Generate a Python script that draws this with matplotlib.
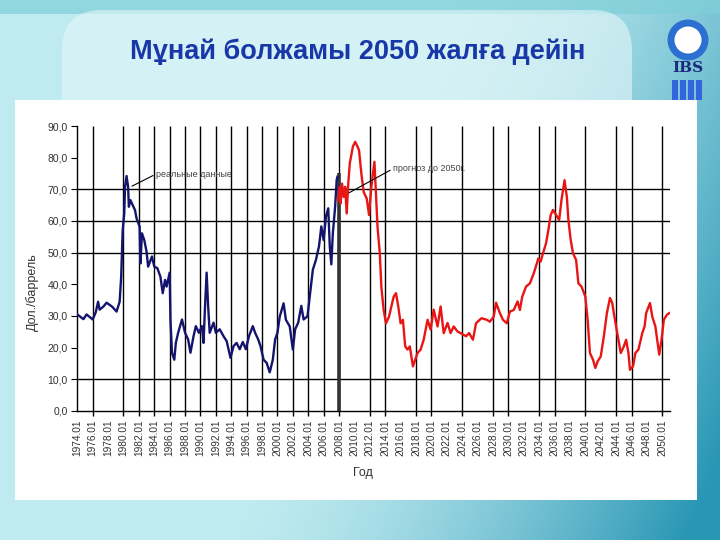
import numpy as np
import matplotlib
matplotlib.use("Agg")
import matplotlib.pyplot as plt
from matplotlib.patches import Rectangle, Circle, FancyBboxPatch

plt.rcParams['font.family'] = ['Liberation Sans', 'DejaVu Sans']

# ---------------- data ----------------
title = "Мұнай болжамы 2050 жалға дейін"
y_label = "Дол./баррель"
x_label = "Год"
note_real = "реальные данные"
note_fc = "прогноз до 2050г."

real_years = [1974.0, 1974.8, 1975.2, 1976.0, 1976.4, 1976.7, 1976.9, 1977.4, 1977.8, 1978.5,
              1979.1, 1979.5, 1979.7, 1979.8, 1979.9, 1980.1, 1980.2, 1980.4, 1980.6, 1980.7,
              1980.9, 1981.2, 1981.5, 1981.7, 1982.1, 1982.2, 1982.4, 1982.7, 1983.0, 1983.2,
              1983.7, 1984.0, 1984.4, 1984.8, 1985.1, 1985.4, 1985.6, 1986.0, 1986.1, 1986.3,
              1986.6, 1986.8, 1987.1, 1987.6, 1988.0, 1988.4, 1988.7, 1989.1, 1989.4, 1989.8,
              1990.2, 1990.4, 1990.6, 1990.8, 1991.0, 1991.2, 1991.7, 1992.0, 1992.5, 1993.0,
              1993.4, 1993.9, 1994.3, 1994.7, 1995.1, 1995.5, 1995.9, 1996.3, 1996.8, 1997.1,
              1997.5, 1997.8, 1998.2, 1998.6, 1999.0, 1999.4, 1999.7, 2000.0, 2000.3, 2000.8,
              2001.1, 2001.6, 2002.0, 2002.3, 2002.7, 2003.1, 2003.4, 2003.9, 2004.2, 2004.6,
              2005.0, 2005.4, 2005.7, 2006.0, 2006.3, 2006.6, 2006.8, 2007.0, 2007.2, 2007.5,
              2007.7, 2007.8]
real_values = [30.5, 29.0, 30.5, 28.9, 31.2, 34.5, 32.0, 33.0, 34.2, 33.0,
               31.4, 34.5, 42.4, 49.8, 57.2, 62.4, 70.8, 74.2, 70.8, 64.5,
               66.6, 65.0, 63.4, 60.8, 58.2, 46.6, 56.1, 54.0, 50.3, 45.6,
               48.8, 45.6, 45.1, 42.4, 37.2, 41.4, 39.3, 43.7, 28.9, 18.4,
               16.2, 21.5, 24.7, 28.9, 24.7, 22.6, 18.4, 23.6, 26.8, 24.7,
               26.8, 21.5, 33.4, 43.7, 33.0, 24.7, 27.9, 24.7, 25.8, 23.6,
               22.1, 16.8, 20.5, 21.5, 19.5, 21.8, 19.5, 23.6, 26.8, 24.7,
               22.6, 20.5, 16.2, 15.2, 12.2, 16.2, 22.6, 24.7, 29.8, 34.0,
               28.8, 26.7, 19.4, 25.8, 27.9, 33.2, 28.9, 29.9, 36.2, 44.6,
               47.7, 52.0, 58.3, 54.0, 61.4, 64.0, 52.0, 46.3, 56.2, 64.6,
               73.0, 74.0]

fc_years = [2007.9, 2008.1, 2008.2, 2008.4, 2008.6, 2008.8, 2009.0, 2009.2, 2009.4, 2009.8,
            2010.1, 2010.4, 2010.6, 2010.9, 2011.2, 2011.6, 2011.9, 2012.2, 2012.6, 2012.8,
            2013.0, 2013.3, 2013.5, 2013.8, 2014.1, 2014.5, 2014.8, 2015.1, 2015.4, 2015.7,
            2016.0, 2016.3, 2016.6, 2016.9, 2017.2, 2017.6, 2017.9, 2018.2, 2018.6, 2019.0,
            2019.5, 2019.9, 2020.3, 2020.8, 2021.2, 2021.6, 2022.1, 2022.5, 2022.9, 2023.4,
            2023.8, 2024.5, 2024.9, 2025.4, 2025.8, 2026.5, 2027.2, 2027.6, 2028.1, 2028.4,
            2028.9, 2029.3, 2029.8, 2030.2, 2030.7, 2031.2, 2031.5, 2031.8, 2032.3, 2032.8,
            2033.3, 2033.7, 2033.9, 2034.2, 2034.5, 2034.9, 2035.2, 2035.5, 2035.8, 2036.2,
            2036.6, 2036.9, 2037.3, 2037.6, 2037.8, 2038.1, 2038.4, 2038.8, 2039.1, 2039.5,
            2040.0, 2040.3, 2040.6, 2041.0, 2041.3, 2041.6, 2042.0, 2042.4, 2042.8, 2043.2,
            2043.5, 2043.7, 2044.0, 2044.3, 2044.6, 2045.0, 2045.3, 2045.6, 2045.8, 2046.2,
            2046.5, 2046.9, 2047.4, 2047.7, 2047.9, 2048.4, 2048.7, 2049.1, 2049.6, 2049.9,
            2050.2, 2050.6, 2050.9]
fc_values = [66.6, 70.8, 65.5, 71.8, 67.6, 70.8, 62.4, 71.8, 78.2, 83.5,
             85.0, 83.5, 82.4, 75.0, 69.2, 67.1, 61.9, 70.8, 78.7, 68.7,
             58.2, 49.8, 39.2, 31.9, 27.7, 29.8, 33.0, 36.1, 37.2, 33.0,
             27.7, 28.8, 20.4, 19.4, 20.4, 14.1, 16.2, 18.3, 19.4, 22.5,
             28.8, 25.7, 32.0, 26.7, 33.0, 24.6, 27.8, 24.6, 26.7, 25.1,
             24.6, 23.6, 24.6, 22.5, 27.7, 29.3, 28.8, 28.2, 29.8, 34.2,
             30.9, 28.8, 27.7, 31.4, 31.9, 34.6, 31.9, 36.1, 39.3, 40.3,
             43.5, 46.6, 48.2, 47.2, 49.8, 53.0, 57.2, 61.9, 63.5, 61.9,
             60.3, 66.6, 72.9, 67.6, 60.3, 54.0, 49.8, 47.7, 40.3, 39.3,
             36.1, 28.8, 18.3, 16.2, 13.6, 15.7, 17.2, 23.5, 30.9, 35.7,
             34.1, 30.9, 26.7, 22.5, 18.3, 20.4, 22.5, 18.3, 13.0, 14.1,
             18.3, 19.4, 24.6, 26.7, 30.9, 34.1, 29.8, 26.7, 17.8, 22.5,
             28.8, 30.4, 30.9]

tick_years = list(range(1974, 2051, 2))
tick_labels = [f"{y}.01" for y in tick_years]
grid_years = [1976, 1980, 1982, 1984, 1986, 1988, 1990, 1992, 1994, 1996, 1998, 2000,
              2002, 2004, 2006, 2008, 2012, 2014, 2018, 2020, 2024, 2028, 2030, 2034,
              2036, 2040, 2044, 2046, 2050]
grid_values = [10, 50, 60, 70]
y_ticks = list(range(0, 91, 10))
y_tick_labels = [f"{v:.1f}".replace('.', ',') for v in y_ticks]

# ---------------- figure ----------------
W, H = 720, 540
fig = plt.figure(figsize=(W / 100, H / 100), dpi=100)

# slide background
bg = fig.add_axes([0, 0, 1, 1])
bg.set_xlim(0, W)
bg.set_ylim(H, 0)
bg.axis('off')
xx = np.linspace(0, 1, 360)
yy = np.linspace(0, 1, 270)
X, Y = np.meshgrid(xx, yy)
light = np.array([190, 234, 240]) / 255
teal = np.array([40, 150, 180]) / 255
t = np.clip((X - 0.55) * 1.6 + (Y - 0.3) * 0.5, 0, 1) ** 1.5
img = light[None, None, :] * (1 - t[..., None]) + teal[None, None, :] * t[..., None]
bg.imshow(img, extent=[0, W, H, 0], aspect='auto', zorder=0)
bg.add_patch(Rectangle((0, 0), W, 14, fc='#7fcfd8', ec='none', alpha=0.7, zorder=1))
bg.add_patch(FancyBboxPatch((62, 10), 570, 200, boxstyle="round,pad=0,rounding_size=40",
                            fc='#e4f7f9', ec='none', alpha=0.6, zorder=1))
bg.add_patch(Rectangle((15, 100), 682, 400, fc='white', ec='none', zorder=2))
# logo
bg.add_patch(Circle((688, 40), 17, fc='white', ec='#2b6fd0', lw=5, zorder=3))
bg.text(688, 68, "IBS", ha='center', va='center', fontsize=11, fontweight='bold',
        family='DejaVu Serif', color='#1a2a7a', zorder=3)
for i in range(4):
    bg.add_patch(Rectangle((672 + i * 8, 80), 6, 20, fc='#3366dd', ec='none', zorder=3))

fig.text(358 / W, 1 - 52 / H, title, ha='center', va='center', fontsize=19.5,
         fontweight='bold', color='#1838a8')

# chart axes
x0, x1 = 77.3, 670.0
yb, yt = 411.0, 126.0
ax = fig.add_axes([x0 / W, 1 - yb / H, (x1 - x0) / W, (yb - yt) / H])
ax.set_facecolor('none')
ax.set_xlim(1974, 2051)
ax.set_ylim(0, 90)
for s in ('top', 'right'):
    ax.spines[s].set_visible(False)
for s in ('left', 'bottom'):
    ax.spines[s].set_color('black')
    ax.spines[s].set_linewidth(1.0)

ax.set_yticks(y_ticks)
ax.set_yticklabels(y_tick_labels, fontsize=7.5, color='#333333')
ax.tick_params(axis='y', direction='out', length=4, width=0.8, pad=3)
ax.set_xticks(tick_years)
ax.set_xticklabels(tick_labels, rotation=90, fontsize=7.3, color='#333333')
ax.tick_params(axis='x', length=0, pad=6)

ax.vlines(grid_years, -1.6, 90, colors='black', lw=1.0, clip_on=False, zorder=1)
ax.hlines(grid_values, 1974, 2051, colors='black', lw=1.0, zorder=1)
ax.vlines([2008], 0, 75, colors='#333333', lw=2.6, zorder=2)

ax.plot(real_years, real_values, color='#14146e', lw=1.7, zorder=3)
ax.plot(fc_years, fc_values, color='#e81515', lw=1.7, zorder=3)

ax.annotate(note_real, xy=(1981.1, 71.0), xytext=(1984.2, 74.8), fontsize=6.5,
            color='#444444', ha='left', va='center',
            arrowprops=dict(arrowstyle='-', color='black', lw=0.8, shrinkA=0, shrinkB=0,
                            relpos=(0, 0.5)), zorder=4)
ax.annotate(note_fc, xy=(2009.3, 68.9), xytext=(2015.0, 76.5), fontsize=6.5,
            color='#444444', ha='left', va='center',
            arrowprops=dict(arrowstyle='-', color='black', lw=0.8, shrinkA=0, shrinkB=0,
                            relpos=(0, 0.5)), zorder=4)

fig.text(32 / W, 1 - 292 / H, y_label, rotation=90, ha='center', va='center',
         fontsize=9, color='#333333')
fig.text(363 / W, 1 - 473 / H, x_label, ha='center', va='center', fontsize=9,
         color='#333333')

fig.savefig("out.png", dpi=100)
